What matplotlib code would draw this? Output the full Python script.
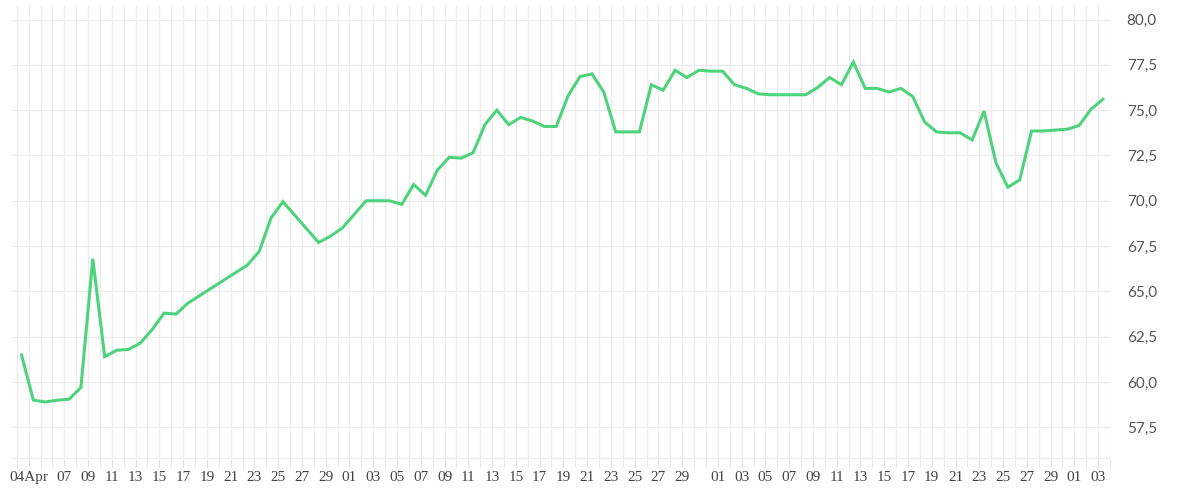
import matplotlib
matplotlib.use("Agg")
import matplotlib.pyplot as plt
import numpy as np
import datetime as dt

start = dt.date(2024, 4, 4)
# day offsets from 04 Apr and values
days = [0,1,2,3,4,5,6,7,8,9,10,11,12,13,14,19,20,21,22,25,26,27,29,31,
        32,33,34,35,36,37,38,39,40,41,42,43,44,45,46,47,48,49,50,51,52,53,54,55,56,57,58,59,
        60,61,62,63,66,67,68,69,70,71,72,73,74,75,76,77,78,79,80,81,82,83,84,85,86,87,88,89,90,91]
values = [61.5,59.0,58.9,59.0,59.05,59.7,66.8,61.4,61.75,61.8,62.15,62.9,63.8,63.75,64.35,
          66.45,67.2,69.05,69.95,67.7,68.05,68.5,70.0,70.0,
          69.8,70.9,70.3,71.7,72.4,72.35,72.65,74.2,75.0,74.2,74.6,74.4,74.1,74.1,75.8,76.85,77.0,76.0,
          73.8,73.8,73.8,76.4,76.1,77.2,76.8,77.2,77.15,77.15,
          76.4,76.2,75.9,75.85,75.85,76.25,76.8,76.4,77.65,76.2,76.2,76.0,76.2,75.75,74.35,73.8,
          73.75,73.75,73.35,74.95,72.1,70.75,71.15,73.85,73.85,73.9,73.95,74.15,75.05,75.6]
yticks = [57.5,60.0,62.5,65.0,67.5,70.0,72.5,75.0,77.5,80.0]

# x tick labels: label date shown at gridline after its point
tick_dates = [dt.date(2024,4,4)] + [dt.date(2024,4,d) for d in range(7,30,2)] + \
             [dt.date(2024,5,d) for d in range(1,30,2)] + \
             [dt.date(2024,6,d) for d in range(1,30,2)] + [dt.date(2024,7,1), dt.date(2024,7,3)]
tick_labels = ["04Apr"] + [t.strftime("%d") for t in tick_dates[1:]]

fig = plt.figure(figsize=(12,5), dpi=100)
ax = fig.add_axes([0.009, 0.08, 0.916, 0.91])
ax.plot(days, values, color="#4ed37c", lw=2.2, solid_joinstyle="miter", zorder=3)

ax.set_xlim(-0.9, 91.6)
ax.set_ylim(55.7, 80.8)
for g in np.arange(-0.4, 92, 1.0):
    ax.axvline(g, color="#ececec", lw=0.9, zorder=1)
for y in yticks:
    ax.axhline(y, color="#ececec", lw=0.9, zorder=1)
ax.axhline(55.8, color="#ececec", lw=0.9, zorder=1)

tpos = [(t - start).days + 0.6 for t in tick_dates]
ax.set_xticks(tpos)
ax.set_xticklabels(tick_labels, fontfamily="Liberation Serif", fontsize=11, color="#444444")
ax.set_xticks(np.arange(-0.4, 92, 1.0), minor=True)
ax.tick_params(axis="x", which="both", length=5, color="#e0e0e0", pad=3)
ax.yaxis.tick_right()
ax.set_yticks(yticks)
ax.set_yticklabels([f"{v:.1f}".replace(".", ",") for v in yticks], fontfamily="Lato", fontsize=11, color="#555555")
ax.tick_params(axis="y", length=0, pad=12)
for s in ax.spines.values():
    s.set_visible(False)
fig.savefig("out.png", dpi=100, facecolor="white")
